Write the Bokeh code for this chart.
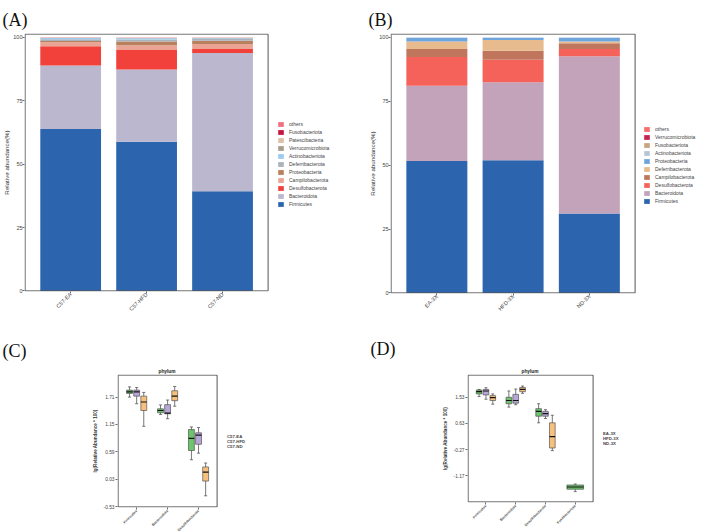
import math
from bokeh.plotting import figure
from bokeh.layouts import row, column
from bokeh.models import (ColumnDataSource, Legend, LegendItem, Title, Range1d, FixedTicker)
from bokeh.embed import file_html
from bokeh.resources import INLINE

SANS = "Liberation Sans"
SERIF = "Liberation Serif"
BORDER = "#555555"

# ---------------- (A) phylum composition, C57 groups (%) ----------------
groups_a = ["C57-EA", "C57-HFD", "C57-ND"]
phyla_a = ["Firmicutes", "Bacteroidota", "Desulfobacterota", "Campilobacterota",
           "Proteobacteria", "Deferribacterota", "Actinobacteriota",
           "Verrucomicrobiota", "Patescibacteria", "Fusobacteriota", "others"]
firmicutes_a = [63.9, 58.8, 39.3]
bacteroidota_a = [25.0, 28.5, 54.5]
desulfobacterota_a = [7.6, 7.7, 1.6]
campilobacterota_a = [1.6, 1.9, 2.0]
proteobacteria_a = [0.5, 1.5, 1.3]
deferribacterota_a = [0.7, 0.8, 0.7]
actinobacteriota_a = [0.5, 0.5, 0.3]
verrucomicrobiota_a = [0.1, 0.1, 0.1]
patescibacteria_a = [0.0, 0.1, 0.1]
fusobacteriota_a = [0.0, 0.0, 0.0]
others_a = [0.1, 0.1, 0.1]
colors_a = ["#2c65ad", "#bab7cf", "#f2403a", "#eba494", "#b8805c", "#aab2bb",
            "#9ccbef", "#a89d8c", "#ddc0a8", "#c4163e", "#f0727d"]

# ---------------- (B) phylum composition, 3X groups (%) ----------------
groups_b = ["EA-3X", "HFD-3X", "ND-3X"]
phyla_b = ["Firmicutes", "Bacteroidota", "Desulfobacterota", "Campilobacterota",
           "Deferribacterota", "Proteobacteria", "Actinobacteriota",
           "Fusobacteriota", "Verrucomicrobiota", "others"]
firmicutes_b = [51.6, 51.9, 31.1]
bacteroidota_b = [29.5, 30.6, 61.5]
desulfobacterota_b = [11.2, 8.8, 2.9]
campilobacterota_b = [3.2, 3.5, 2.2]
deferribacterota_b = [2.9, 4.2, 0.7]
proteobacteria_b = [1.5, 0.9, 1.5]
actinobacteriota_b = [0.1, 0.1, 0.1]
fusobacteriota_b = [0.0, 0.0, 0.0]
verrucomicrobiota_b = [0.0, 0.0, 0.0]
others_b = [0.0, 0.0, 0.0]
colors_b = ["#2c65ad", "#c3a3b9", "#f5625a", "#c0765c", "#e7bb8d", "#6fa5dd",
            "#b6c6d6", "#c9a57f", "#c4254f", "#f46f6c"]

# ---------------- (C) lg(Relative Abundance * 100), C57 groups ----------------
# rows: lower whisker, Q1, median, Q3, upper whisker
taxa_c = ["Firmicutes", "Bacteroidota", "Desulfobacterota"]
groups_c = ["C57-EA", "C57-HFD", "C57-ND"]
c57_ea = [[1.710, 1.786, 1.818, 1.853, 1.919],
          [1.355, 1.390, 1.436, 1.470, 1.550],
          [0.429, 0.618, 0.866, 1.047, 1.100]]
c57_hfd = [[1.575, 1.730, 1.818, 1.853, 1.906],
           [1.268, 1.369, 1.383, 1.556, 1.650],
           [0.564, 0.745, 0.931, 0.980, 1.087]]
c57_nd = [[1.114, 1.436, 1.610, 1.730, 1.806],
          [1.524, 1.637, 1.730, 1.840, 1.927],
          [-0.308, -0.006, 0.175, 0.282, 0.362]]
yticks_c = [-0.53, 0.03, 0.59, 1.15, 1.71]

# ---------------- (D) lg(Relative Abundance * 100), 3X groups ----------------
taxa_d = ["Firmicutes", "Bacteroidota", "Desulfobacterota", "Fusobacteriota"]
groups_d = ["EA-3X", "HFD-3X", "ND-3X"]
ea_3x = [[1.553, 1.644, 1.721, 1.778, 1.799],
         [1.192, 1.307, 1.418, 1.529, 1.745],
         [0.653, 0.879, 1.047, 1.138, 1.307],
         [-1.706, -1.625, -1.548, -1.480, -1.447]]
hfd_3x = [[1.462, 1.610, 1.745, 1.799, 1.856],
          [1.273, 1.327, 1.418, 1.630, 1.812],
          [0.801, 0.879, 0.970, 1.047, 1.104],
          None]
nd_3x = [[1.293, 1.418, 1.519, 1.586, 1.644],
         [1.664, 1.721, 1.799, 1.866, 1.913],
         [-0.301, -0.210, 0.181, 0.653, 0.912],
         None]
yticks_d = [-1.17, -0.27, 0.63, 1.53]

box_fill = ["#6cc46c", "#b7a6d8", "#f8c07e"]
dot_fill = ["#3f8f3f", "#8f7cbf", "#c99a5c"]


def make_figure(frame_w, frame_h, borders, x0, x1, px_x, y0, y1):
    """Frame holds the plotting area plus room for the legend on its right.
    (x0, x1) and (y0, y1) are the limits of the bordered plotting area; the
    x range is stretched so that px_x pixels span the plotting area."""
    left, right, top, bottom = borders
    ppx = px_x / (x1 - x0)
    ppy_pad = 0.6 * (y1 - y0) / frame_h
    xs = x0 - 0.6 / ppx
    p = figure(frame_width=frame_w, frame_height=frame_h,
               output_backend="svg", toolbar_location=None, title_location=None,
               x_range=Range1d(xs, xs + frame_w / ppx),
               y_range=Range1d(y0 - ppy_pad, y1 + ppy_pad),
               min_border_left=left, min_border_right=right,
               min_border_top=top, min_border_bottom=bottom)
    p.outline_line_color = None
    p.xgrid.visible = False
    p.ygrid.visible = False
    return p


def draw_border(p, x0, x1, y0, y1):
    p.quad(left=[x0], right=[x1], bottom=[y0], top=[y1], fill_color=None,
           line_color=BORDER, line_width=1)


def style_axes(p, tick_size, title_size, title_style, label_standoff=1):
    for ax in (p.xaxis[0], p.yaxis[0]):
        ax.axis_line_color = None
        ax.major_tick_line_color = "#444444"
        ax.major_tick_line_width = 0.8
        ax.major_tick_out = 2
        ax.major_tick_in = 0
        ax.minor_tick_line_color = None
        ax.major_label_standoff = label_standoff
        ax.major_label_text_font = SANS
        ax.major_label_text_font_size = tick_size
        ax.major_label_text_color = "#444444"
        ax.axis_label_text_font = SANS
        ax.axis_label_text_font_size = title_size
        ax.axis_label_text_font_style = title_style
        ax.axis_label_text_color = "#333333"


def add_tag(p, text, offset, standoff, valign):
    # panel letter above the frame, pushed out to the left
    p.add_layout(Title(text=text, align="left", offset=offset, standoff=standoff,
                       vertical_align=valign, text_font=SERIF, text_font_size="18px",
                       text_font_style="normal", text_color="#111111"), "above")


def inner_legend(items, loc, glyph, label_h, spacing, font_size, font_style, standoff):
    return Legend(items=items, location=loc, ncols=1,
                  glyph_width=glyph[0], glyph_height=glyph[1],
                  label_height=label_h, spacing=spacing, padding=0, margin=0,
                  label_standoff=standoff, label_text_font=SANS,
                  label_text_font_size=font_size, label_text_font_style=font_style,
                  label_text_color="#444444",
                  border_line_color=None, background_fill_alpha=0)


def stacked_panel(groups, phyla, columns, colors, frame, px_x, borders, legend_loc,
                  tag, tag_offset):
    p = make_figure(frame[0], frame[1], borders, 0.4, 3.6, px_x, 0, 101.3)
    xs = list(range(1, len(groups) + 1))
    data = {"x": xs}
    data.update(columns)
    src = ColumnDataSource(data)
    rs = p.vbar_stack(phyla, x="x", width=0.8, source=src,
                      fill_color=colors, line_color=None)
    draw_border(p, 0.4, 3.6, 0, 101.3)
    style_axes(p, "5.5px", "6.2px", "normal", label_standoff=0)
    p.xaxis.ticker = FixedTicker(ticks=xs)
    p.xaxis.major_label_overrides = {x: g for x, g in zip(xs, groups)}
    p.xaxis.major_label_orientation = math.pi / 4
    p.yaxis.ticker = FixedTicker(ticks=[0, 25, 50, 75, 100])
    p.yaxis.axis_label = "Relative abundance(%)"
    p.yaxis.axis_label_standoff = 0
    items = [LegendItem(label=n, renderers=[r]) for n, r in zip(phyla, rs)][::-1]
    p.add_layout(inner_legend(items, legend_loc, (7, 6), 6, 2, "5px", "normal", 5))
    add_tag(p, tag, tag_offset, 4, "top")
    return p


def box_panel(taxa, groups, stats, yticks, y_lo, y_hi, frame, px_x, borders,
              legend_loc, title_offset, tag, tag_offset, tag_standoff,
              offset, box_w, single_w):
    n = len(taxa)
    p = make_figure(frame[0], frame[1], borders, 0.4, n + 0.6, px_x, y_lo, y_hi)
    p.add_layout(Title(text="phylum", align="left", offset=title_offset, standoff=1,
                       text_font=SANS, text_font_size="4.8px", text_font_style="bold",
                       text_color="#222222"), "above")
    offsets = [(gi - (len(groups) - 1) / 2) * offset for gi in range(len(groups))]
    for gi, g in enumerate(groups):
        cols = {k: [] for k in ("x", "w", "lo", "q1", "med", "q3", "hi",
                                "c0", "c1", "m0", "m1")}
        for ci in range(n):
            s = stats[gi][ci]
            if s is None:
                continue
            present = sum(1 for gg in range(len(groups)) if stats[gg][ci] is not None)
            if present == 1:
                x, w = ci + 1, single_w
            else:
                x, w = ci + 1 + offsets[gi], box_w
            cols["x"].append(x)
            cols["w"].append(w)
            for k, v in zip(("lo", "q1", "med", "q3", "hi"), s):
                cols[k].append(v)
            cols["c0"].append(x - 0.05)
            cols["c1"].append(x + 0.05)
            cols["m0"].append(x - w / 2)
            cols["m1"].append(x + w / 2)
        src = ColumnDataSource(cols)
        p.segment(x0="x", y0="lo", x1="x", y1="hi", source=src,
                  line_color="#555555", line_width=0.8)
        p.segment(x0="c0", y0="lo", x1="c1", y1="lo", source=src,
                  line_color="#555555", line_width=0.8)
        p.segment(x0="c0", y0="hi", x1="c1", y1="hi", source=src,
                  line_color="#555555", line_width=0.8)
        p.vbar(x="x", width="w", bottom="q1", top="q3", source=src,
               fill_color=box_fill[gi], line_color="#555555", line_width=0.7)
        p.segment(x0="m0", y0="med", x1="m1", y1="med", source=src,
                  line_color="#111111", line_width=1.2)
    draw_border(p, 0.4, n + 0.6, y_lo, y_hi)
    style_axes(p, "4.8px", "4.6px", "bold")
    xs = list(range(1, n + 1))
    p.xaxis.ticker = FixedTicker(ticks=xs)
    p.xaxis.major_label_overrides = {x: t for x, t in zip(xs, taxa)}
    p.xaxis.major_label_orientation = math.pi / 4
    p.xaxis.major_label_text_font_size = "3.5px"
    p.xaxis.major_label_text_font_style = "bold"
    p.yaxis.ticker = FixedTicker(ticks=yticks)
    p.yaxis.major_label_overrides = {t: f"{t:.2f}" for t in yticks}
    p.yaxis.axis_label = "lg(Relative Abundance * 100)"
    p.yaxis.axis_label_standoff = 3
    items = []
    for gi, g in enumerate(groups):
        r = p.scatter(x=[], y=[], marker="circle", fill_color=dot_fill[gi],
                      line_color="#333333", line_width=0.4)
        items.append(LegendItem(label=g, renderers=[r]))
    p.add_layout(inner_legend(items, legend_loc, (5, 5), 4, 0, "4.3px", "bold", 2))
    add_tag(p, tag, tag_offset, tag_standoff, "bottom")
    return p


cols_a = dict(zip(phyla_a, [firmicutes_a, bacteroidota_a, desulfobacterota_a,
                            campilobacterota_a, proteobacteria_a, deferribacterota_a,
                            actinobacteriota_a, verrucomicrobiota_a, patescibacteria_a,
                            fusobacteriota_a, others_a]))
cols_b = dict(zip(phyla_b, [firmicutes_b, bacteroidota_b, desulfobacterota_b,
                            campilobacterota_b, deferribacterota_b, proteobacteria_b,
                            actinobacteriota_b, fusobacteriota_b, verrucomicrobiota_b,
                            others_b]))

pa = stacked_panel(groups_a, phyla_a, cols_a, colors_a, (325, 258), 243,
                   (24, 2, 33, 29), (253, 84), "(A)", -22)
pb = stacked_panel(groups_b, phyla_b, cols_b, colors_b, (310, 260), 244,
                   (39, 2, 33, 27), (253, 89), "(B)", -22)
pc = box_panel(taxa_c, groups_c, [c57_ea, c57_hfd, c57_nd], yticks_c, -0.535, 2.16,
               (232, 133), 99, (117, 2, 51, 28), (103, 58), 41, "(C)", -115, 12,
               0.23, 0.19, 0.56)
pd = box_panel(taxa_d, groups_d, [ea_3x, hfd_3x, nd_3x], yticks_d, -2.06, 2.29,
               (233, 128), 125, (116, 2, 54, 30), (129, 56), 54, "(D)", -97, 16,
               0.23, 0.19, 0.56)

layout = column(row(pa, pb), row(pc, pd))
open("out.html", "w").write(file_html(layout, INLINE))
